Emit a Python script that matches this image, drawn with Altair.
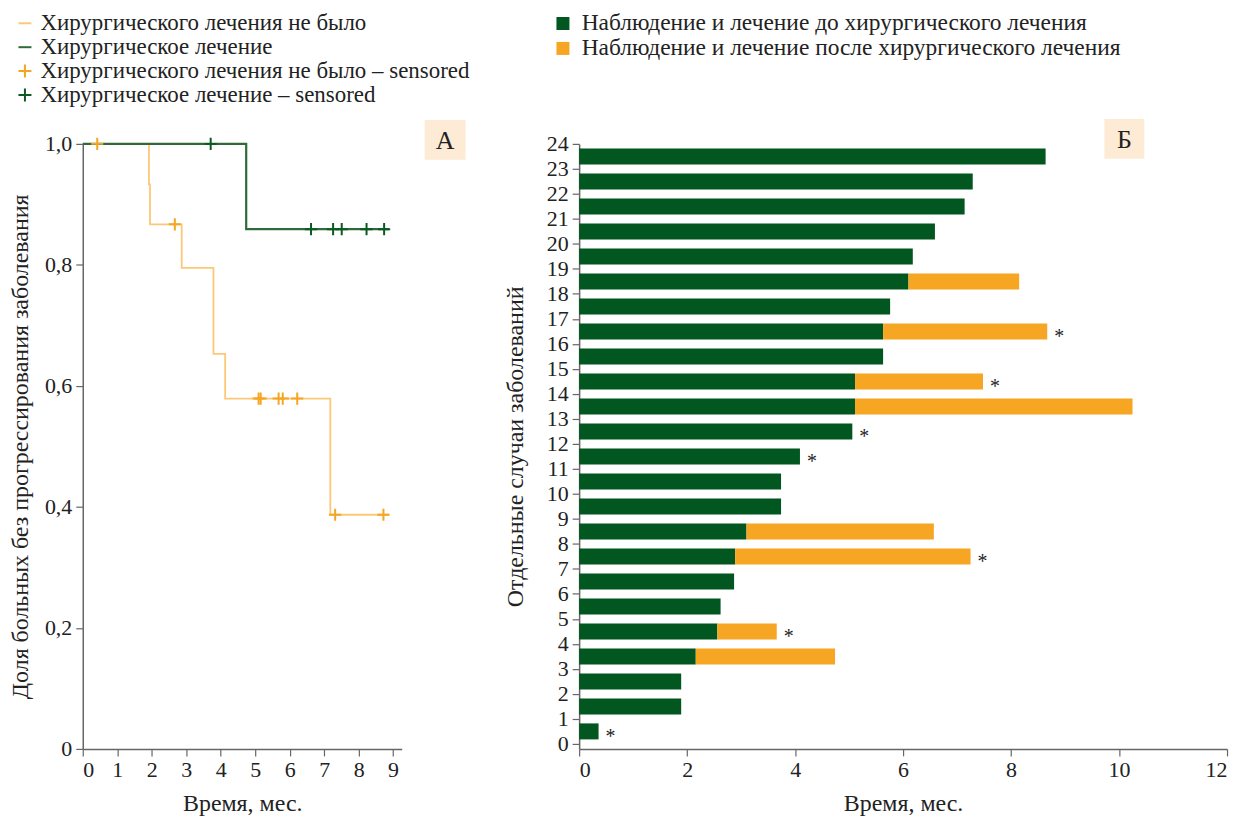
import altair as alt
import pandas as pd

FONT = "Liberation Serif"

# ---------------- Panel A data (Kaplan–Meier) ----------------
lab_no = "Хирургического лечения не было"
lab_yes = "Хирургическое лечение"
lab_no_c = "Хирургического лечения не было – sensored"
lab_yes_c = "Хирургическое лечение – sensored"

orange_t = [0, 1.92, 1.95, 2.87, 3.79, 4.13, 7.18, 8.88]
orange_s = [1.0, 0.933, 0.867, 0.795, 0.653, 0.579, 0.387, 0.387]
green_t = [0, 4.74, 8.88]
green_s = [1.0, 0.859, 0.859]

orange_cens_t = [0.42, 2.67, 5.10, 5.16, 5.68, 5.80, 6.22, 7.32, 8.72]
orange_cens_s = [1.0, 0.867, 0.579, 0.579, 0.579, 0.579, 0.579, 0.387, 0.387]
green_cens_t = [3.71, 6.62, 7.26, 7.51, 8.23, 8.74]
green_cens_s = [1.0, 0.859, 0.859, 0.859, 0.859, 0.859]

# ---------------- Panel B data ----------------
cases = list(range(1, 25))
pre_end = [0.36, 1.89, 1.89, 2.16, 2.56, 2.62, 2.87, 2.89, 3.10, 3.74, 3.74, 4.09,
           5.06, 5.11, 5.11, 5.63, 5.63, 5.76, 6.10, 6.18, 6.59, 7.14, 7.29, 8.64]
post_end = [None, None, None, 4.74, 3.66, None, None, 7.25, 6.57, None, None, None,
            None, 10.25, 7.48, None, 8.67, None, 8.15, None, None, None, None, None]
star_cases = [1, 5, 8, 12, 13, 15, 17]

lab_pre = "Наблюдение и лечение до хирургического лечения"
lab_post = "Наблюдение и лечение после хирургического лечения"

# ---------------- tables ----------------
orange_df = pd.DataFrame({"t": orange_t, "s": orange_s})
green_df = pd.DataFrame({"t": green_t, "s": green_s})
cens_df = pd.DataFrame(
    [{"t": t, "s": s, "label": lab_no_c} for t, s in zip(orange_cens_t, orange_cens_s)]
    + [{"t": t, "s": s, "label": lab_yes_c} for t, s in zip(green_cens_t, green_cens_s)]
)

bar_rows = []
for c, p, q in zip(cases, pre_end, post_end):
    bar_rows.append({"case": c, "start": 0.0, "end": p, "phase": lab_pre})
    if q is not None:
        bar_rows.append({"case": c, "start": p, "end": q, "phase": lab_post})
bars_df = pd.DataFrame(bar_rows)

star_rows = []
for c, p, q in zip(cases, pre_end, post_end):
    if c in star_cases:
        star_rows.append({"case": c, "end": q if q is not None else p})
stars_df = pd.DataFrame(star_rows)

# ---------------- styling ----------------
AX = dict(labelFont=FONT, titleFont=FONT, labelFontSize=22, titleFontSize=24,
          labelColor="#222", titleColor="#222", titleFontWeight="normal",
          domainColor="#666", tickColor="#666", tickSize=7, domainWidth=1.5,
          tickWidth=1.2, grid=False, labelPadding=4, labelOverlap=False)

ORANGE_LINE = "#fcc878"
GREEN_LINE = "#2e6b39"
dom4 = [lab_no, lab_yes, lab_no_c, lab_yes_c]
col4 = [ORANGE_LINE, GREEN_LINE, "#f5a521", "#0b5a22"]
line_path = "M-1,0L1,0"
cross_path = "M-1,0L1,0M0,-1L0,1"

xscA = alt.Scale(domain=[0, 9.25], nice=False)
yscA = alt.Scale(domain=[0, 1], nice=False)
axxA = alt.Axis(values=list(range(10)), format="d", title="Время, мес.",
                titlePadding=11, **AX)
axyA = alt.Axis(values=[0, 0.2, 0.4, 0.6, 0.8, 1.0],
                labelExpr="datum.value == 0 ? '0' : replace(format(datum.value, '.1f'), '.', ',')",
                title="Доля больных без прогрессирования заболевания",
                titlePadding=12, **AX)
xA = alt.X("t:Q", scale=xscA, axis=axxA)
yA = alt.Y("s:Q", scale=yscA, axis=axyA)

line_o = alt.Chart(orange_df).mark_line(interpolate="step-after", strokeWidth=1.8,
                                         color=ORANGE_LINE).encode(x=xA, y=yA)
line_g = alt.Chart(green_df).mark_line(interpolate="step-after", strokeWidth=2.2,
                                        color=GREEN_LINE).encode(x=xA, y=yA)

legendA = alt.Legend(
    title=None, orient="none", legendX=-69.5, legendY=-132.5,
    labelFont=FONT, labelFontSize=23, labelColor="#222",
    symbolSize=170, symbolStrokeWidth=2, rowPadding=0, labelOffset=4,
    labelLimit=700,
)
points = alt.Chart(cens_df).mark_point(filled=False, size=150, strokeWidth=2, opacity=1).encode(
    x=xA, y=yA,
    color=alt.Color("label:N", scale=alt.Scale(domain=dom4, range=col4), legend=legendA),
    shape=alt.Shape("label:N", scale=alt.Scale(domain=dom4,
                    range=[line_path, line_path, cross_path, cross_path]), legend=legendA),
)

box_df = pd.DataFrame([{"k": 1}])
boxA = alt.Chart(box_df).mark_rect(color="#fdebd5").encode(
    x=alt.value(343), x2=alt.value(384), y=alt.value(-24), y2=alt.value(16))
boxAt = alt.Chart(box_df).mark_text(text="А", font=FONT, fontSize=26, color="#222",
                                    baseline="middle", align="center").encode(
    x=alt.value(363.5), y=alt.value(-3))

chartA = alt.layer(line_o, line_g, points, boxA, boxAt).properties(width=320, height=607)

# ---------------- Panel B ----------------
xscB = alt.Scale(domain=[0, 12], nice=False)
yscB = alt.Scale(domain=[-0.2, 24], nice=False)
axxB = alt.Axis(values=list(range(0, 13, 2)), format="d", title="Время, мес.",
                titlePadding=11, **AX)
axyB = alt.Axis(values=list(range(0, 25)), format="d",
                title="Отдельные случаи заболеваний", titlePadding=19, **AX)

legendB = alt.Legend(
    title=None, orient="none", legendX=-28, legendY=-132.5,
    labelFont=FONT, labelFontSize=23.5, labelColor="#222",
    symbolType="square", symbolSize=170, symbolStrokeWidth=0, rowPadding=0,
    labelOffset=7, labelLimit=800,
)
bars = alt.Chart(bars_df).transform_calculate(
    y0="datum.case - 0.82", y1="datum.case - 0.18"
).mark_bar().encode(
    x=alt.X("start:Q", scale=xscB, axis=axxB), x2="end:Q",
    y=alt.Y("y0:Q", scale=yscB, axis=axyB), y2="y1:Q",
    color=alt.Color("phase:N", scale=alt.Scale(domain=[lab_pre, lab_post],
                    range=["#02561f", "#f6a623"]), legend=legendB),
)
stars = alt.Chart(stars_df).transform_calculate(
    yc="datum.case - 0.5"
).mark_text(text="*", font=FONT, fontSize=20, color="#222", dx=12, dy=6,
            baseline="middle", align="center").encode(
    x=alt.X("end:Q", scale=xscB, axis=axxB),
    y=alt.Y("yc:Q", scale=yscB, axis=axyB),
)
boxB = alt.Chart(box_df).mark_rect(color="#fdebd5").encode(
    x=alt.value(527), x2=alt.value(567), y=alt.value(-25), y2=alt.value(15))
boxBt = alt.Chart(box_df).mark_text(text="Б", font=FONT, fontSize=26, color="#222",
                                    baseline="middle", align="center").encode(
    x=alt.value(547), y=alt.value(-4))

chartB = alt.layer(bars, stars, boxB, boxBt).properties(width=650, height=607)

chart = alt.hconcat(chartA, chartB, spacing=33).resolve_scale(
    color="independent", shape="independent", x="independent", y="independent"
).resolve_legend(color="independent", shape="independent").properties(
    padding={"top": 2, "left": 0, "right": 5, "bottom": 0}
).configure_view(stroke=None)

chart.save("out.html", embed_options={"renderer": "svg", "actions": False})
